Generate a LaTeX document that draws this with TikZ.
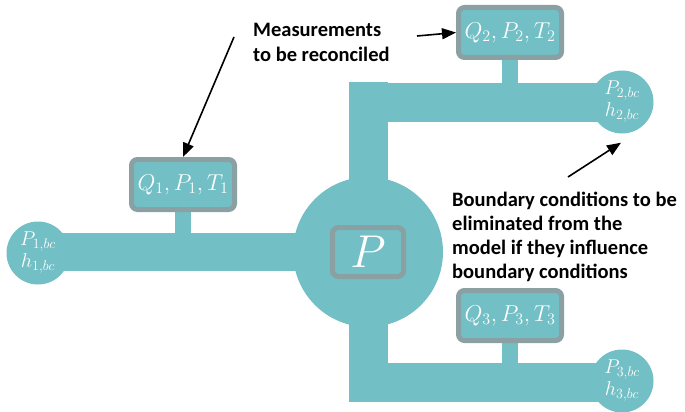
\RequirePackage{fix-cm}
\documentclass[tikz,border=0pt]{standalone}
\usepackage{fontspec}
\setmainfont{Carlito}
\usetikzlibrary{arrows.meta,calc}
\definecolor{teal1}{HTML}{72BFC5}
\definecolor{frame1}{HTML}{8AA0A3}
\tikzset{
  pipe/.style={fill=teal1},
  bc/.style={circle,fill=teal1,minimum size=63pt,inner sep=0pt,text=white,align=center,font=\fontsize{20}{22}\selectfont},
  meas/.style={rectangle,rounded corners=6pt,draw=frame1,line width=5pt,fill=teal1,minimum width=103pt,minimum height=50pt,inner sep=0pt,text=white,font=\fontsize{23}{25}\selectfont},
  lbl/.style={anchor=north west,inner sep=0pt,align=left},
  arr/.style={line width=1.6pt,-{Triangle[length=14pt,width=11pt]}}
}
\begin{document}
\begin{tikzpicture}[x=1pt,y=-1pt]
\useasboundingbox (0,0) rectangle (685,412);
% pipes
\fill[pipe] (38,233) rectangle (320,271);
\fill[pipe] (349,82) rectangle (388,200);
\fill[pipe] (349,83) rectangle (622,122);
\fill[pipe] (349,300) rectangle (388,402);
\fill[pipe] (349,363) rectangle (622,402);
% stems
\fill[pipe] (175,205) rectangle (191,233);
\fill[pipe] (502,55) rectangle (518,84);
\fill[pipe] (502,340) rectangle (518,364);
% hub
\node[circle,fill=teal1,minimum size=150pt,inner sep=0pt] (hub) at (368,252) {};
\node[meas,minimum width=71pt,minimum height=49pt,font=\fontsize{46}{50}\selectfont] (pbox) at (368,252) {$P$};
% boundary circles
\node[bc] (c1) at (38,253) {$P_{1,bc}$\\$h_{1,bc}$};
\node[bc] (c2) at (622,102) {$P_{2,bc}$\\$h_{2,bc}$};
\node[bc] (c3) at (622,381) {$P_{3,bc}$\\$h_{3,bc}$};
% measurement boxes
\node[meas] (q1) at (183,184.5) {$Q_1,P_1,T_1$};
\node[meas] (q2) at (510,32.5) {$Q_2,P_2,T_2$};
\node[meas] (q3) at (510,315.5) {$Q_3,P_3,T_3$};
% labels
\node[lbl,font=\fontsize{20.5}{25}\selectfont\bfseries] (m) at (253,23) {Measurements\\to be reconciled};
\node[lbl,font=\fontsize{20.5}{24}\selectfont\bfseries] (b) at (452,192) {Boundary conditions to be\\eliminated from the\\model if they influence\\boundary conditions};
% arrows
\coordinate (m1) at (234,37);
\coordinate (m2) at (417,36);
\coordinate (b1) at (568,177);
\draw[arr] (m1) -- (q1.north);
\draw[arr] (m2) -- (q2.west);
\draw[arr] (b1) -- ([xshift=-1pt,yshift=-9pt]c2.south);
\end{tikzpicture}
\end{document}
